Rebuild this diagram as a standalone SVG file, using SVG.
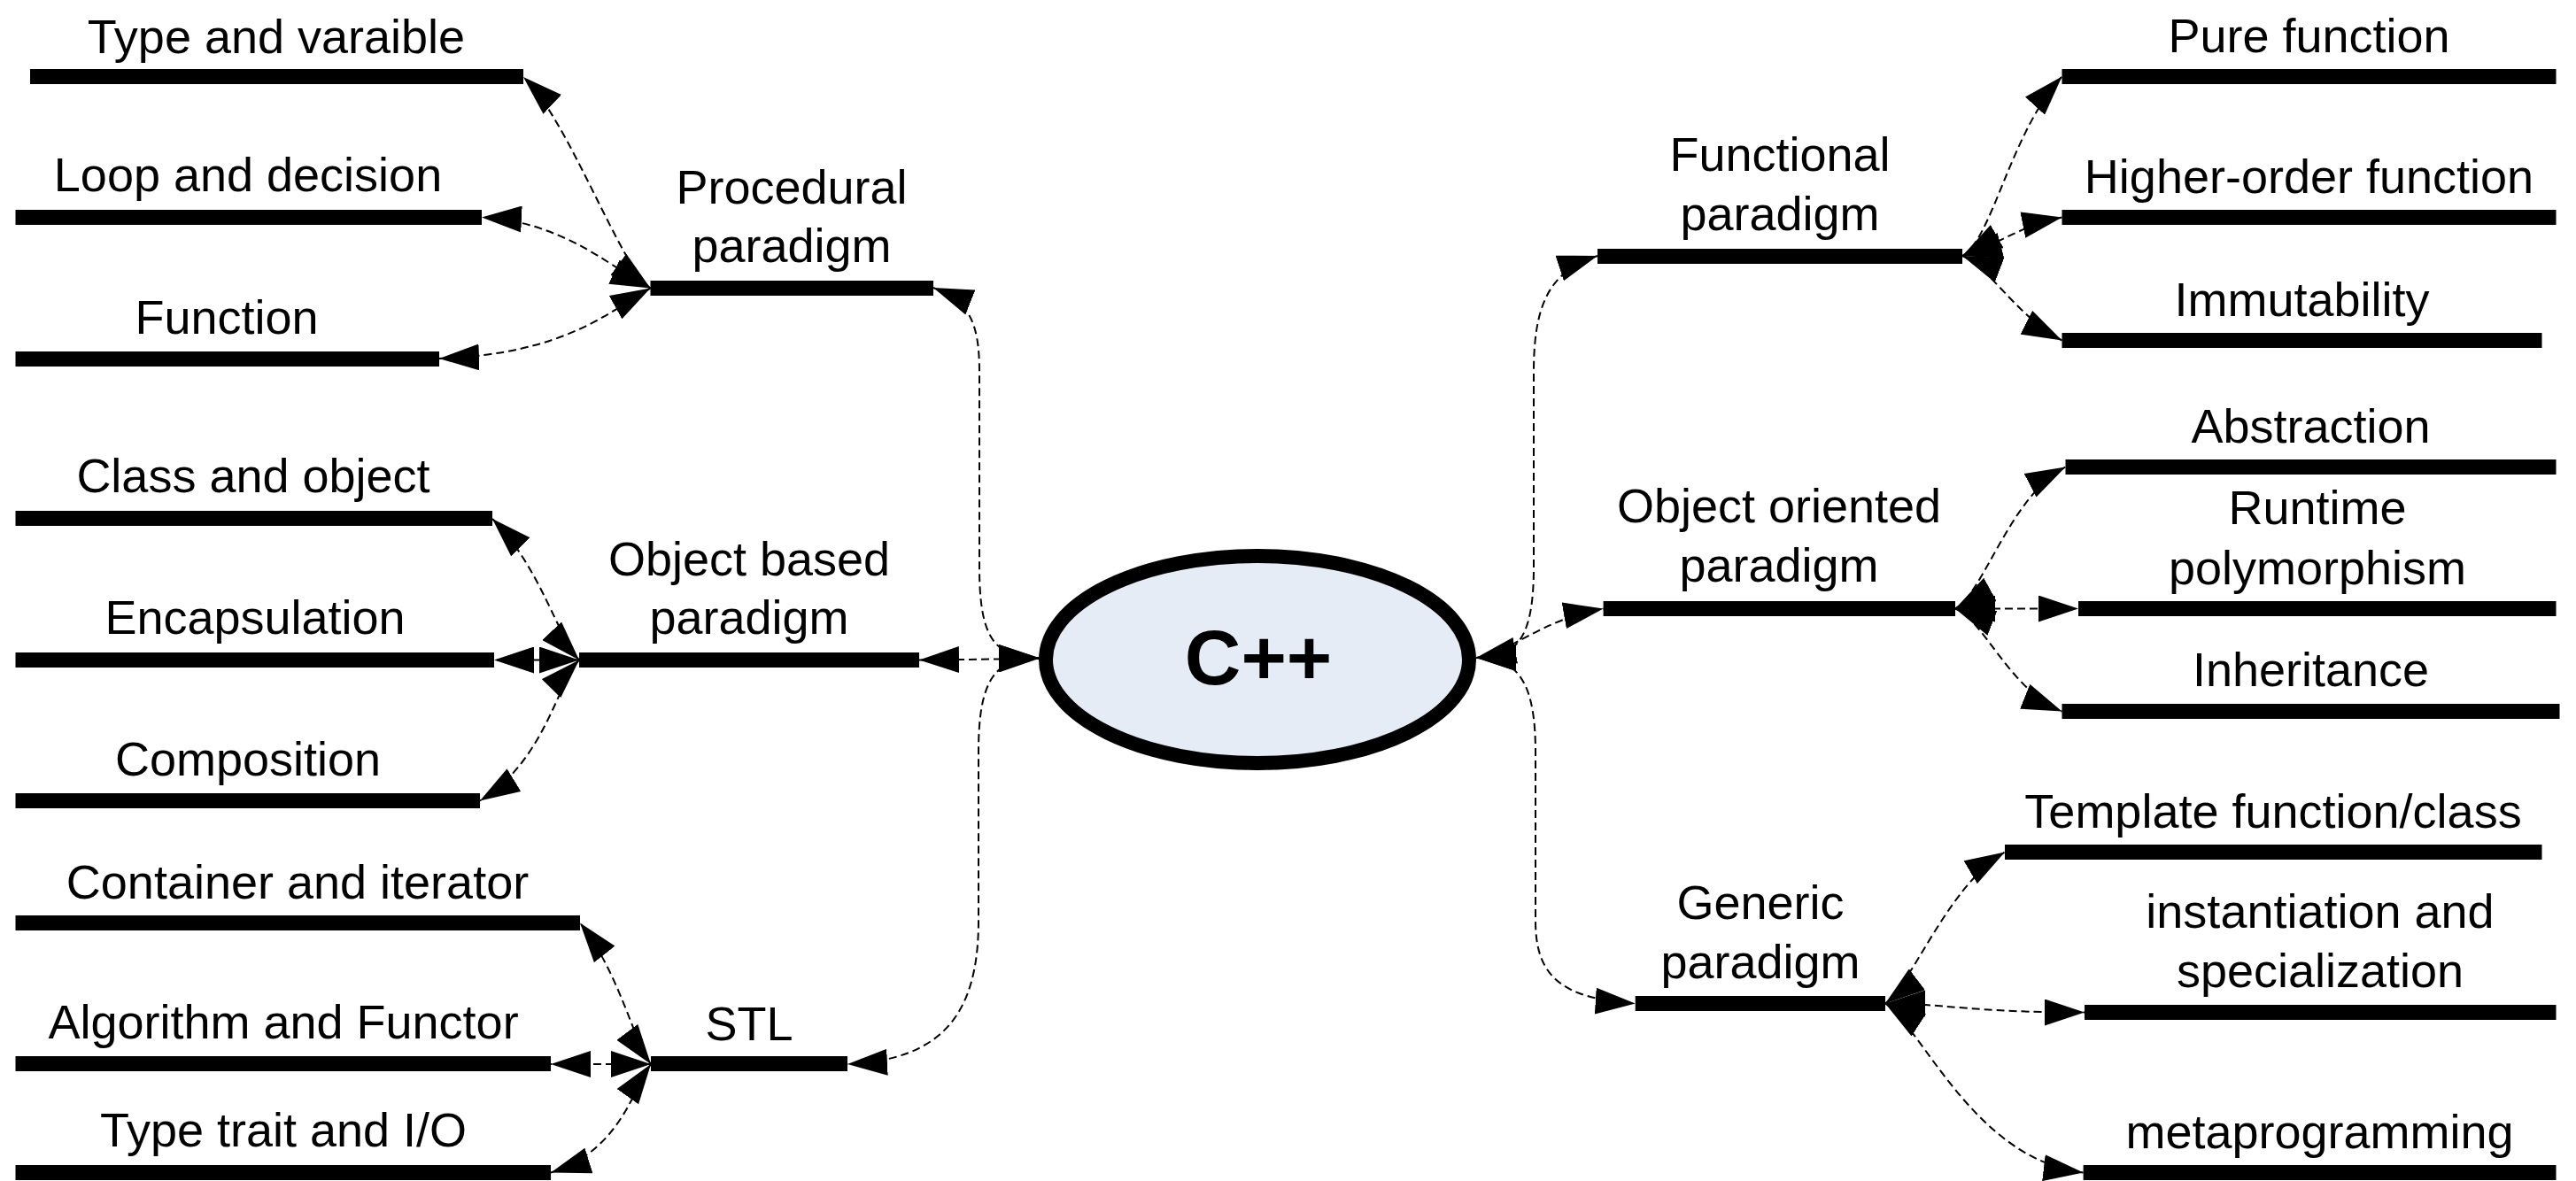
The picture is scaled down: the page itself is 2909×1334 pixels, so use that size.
<svg xmlns="http://www.w3.org/2000/svg" width="2909" height="1334" viewBox="0 0 2909 1334">
<defs>
<marker id="ah" markerUnits="userSpaceOnUse" markerWidth="46" markerHeight="30" refX="45" refY="15" orient="auto-start-reverse" viewBox="0 0 46 30">
<path d="M0,0 L45,15 L0,30 z" fill="#000"/>
</marker>
<style>
.bar{fill:#000}
.lbl{font-family:"Liberation Sans",Arial,sans-serif;font-size:54px;fill:#000;text-anchor:middle}
.cn{fill:none;stroke:#000;stroke-width:2;stroke-dasharray:9 5;marker-start:url(#ah);marker-end:url(#ah)}
</style>
</defs>
<rect width="2909" height="1334" fill="#fff"/>
<g id="connectors">
<path class="cn" d="M1173,743 C1122,743 1106,720 1106,640 L1106,420 C1106,360 1092,340 1054,325"/>
<path class="cn" d="M1173,744 L1038,745.5"/>
<path class="cn" d="M1173,743 C1122,743 1105,770 1105,850 L1105,1040 C1105,1150 1060,1197 957,1202"/>
<path class="cn" d="M1667,743 C1714,743 1732,720 1732,640 L1732,420 C1732,340 1752,306 1804,289"/>
<path class="cn" d="M1667,743 C1710,735 1740,700 1810.6,687.5"/>
<path class="cn" d="M1667,743 C1714,743 1734,770 1734,850 L1734,1040 C1734,1100 1760,1128 1846.7,1133.5"/>
<path class="cn" d="M734.5,325.5 C700,300 642,135 591,87"/>
<path class="cn" d="M734.5,325.5 C700,310 640,250 544,245.5"/>
<path class="cn" d="M734.5,325.5 C690,350 640,400 496,405"/>
<path class="cn" d="M654,745.5 C630,720 610,640 556,586"/>
<path class="cn" d="M654,745.5 L558,745.5"/>
<path class="cn" d="M654,745.5 C630,770 615,860 542,904.5"/>
<path class="cn" d="M735,1202 C715,1175 700,1100 655,1042.5"/>
<path class="cn" d="M735,1202 L622,1202"/>
<path class="cn" d="M735,1202 C715,1230 700,1300 622,1324.5"/>
<path class="cn" d="M2216,289 C2250,270 2270,150 2328.5,86.5"/>
<path class="cn" d="M2216,289 C2250,280 2280,255 2328.5,245.5"/>
<path class="cn" d="M2216,289 C2245,300 2280,360 2328.5,384.5"/>
<path class="cn" d="M2208,687.5 C2240,670 2270,560 2332.5,527.5"/>
<path class="cn" d="M2208,687.5 L2347,687.5"/>
<path class="cn" d="M2208,687.5 C2240,700 2270,780 2328.5,803.5"/>
<path class="cn" d="M2129,1133.5 C2160,1110 2200,1000 2264,962.5"/>
<path class="cn" d="M2129,1133.5 C2200,1133.5 2220,1143.5 2354,1143.5"/>
<path class="cn" d="M2129,1133.5 C2170,1160 2230,1310 2352.6,1324.5"/>
</g>
<g id="cpp">
<ellipse cx="1420" cy="745" rx="239" ry="117" fill="#e5ecf6" stroke="#000" stroke-width="16"/>
<text x="1421" y="773" font-family="Liberation Sans,Arial,sans-serif" font-size="88" font-weight="bold" text-anchor="middle">C++</text>
</g>
<g id="procedural"><rect class="bar" x="734.5" y="317" width="319.5" height="17"/><text class="lbl" x="894" y="230">Procedural</text><text class="lbl" x="894" y="296">paradigm</text></g>
<g id="type-var"><rect class="bar" x="34" y="78" width="557" height="17"/><text class="lbl" x="312" y="60">Type and varaible</text></g>
<g id="loop"><rect class="bar" x="17.5" y="237" width="526.5" height="17"/><text class="lbl" x="280" y="216">Loop and decision</text></g>
<g id="function"><rect class="bar" x="17.5" y="397" width="478.5" height="17"/><text class="lbl" x="256" y="377">Function</text></g>
<g id="object-based"><rect class="bar" x="654" y="737" width="384" height="17"/><text class="lbl" x="846" y="650">Object based</text><text class="lbl" x="846" y="716">paradigm</text></g>
<g id="class-object"><rect class="bar" x="17.5" y="577" width="538.5" height="17"/><text class="lbl" x="286" y="556">Class and object</text></g>
<g id="encapsulation"><rect class="bar" x="17.5" y="737" width="540.5" height="17"/><text class="lbl" x="288" y="716">Encapsulation</text></g>
<g id="composition"><rect class="bar" x="17.5" y="896" width="524.5" height="17"/><text class="lbl" x="280" y="876">Composition</text></g>
<g id="stl"><rect class="bar" x="735" y="1193" width="222" height="17"/><text class="lbl" x="846" y="1175">STL</text></g>
<g id="container"><rect class="bar" x="17.5" y="1034" width="637.5" height="17"/><text class="lbl" x="336" y="1015">Container and iterator</text></g>
<g id="algorithm"><rect class="bar" x="17.5" y="1193" width="604.5" height="17"/><text class="lbl" x="320" y="1173">Algorithm and Functor</text></g>
<g id="type-trait"><rect class="bar" x="17.5" y="1316" width="604.5" height="17"/><text class="lbl" x="320" y="1295">Type trait and I/O</text></g>
<g id="functional"><rect class="bar" x="1804" y="281" width="412" height="17"/><text class="lbl" x="2010" y="193">Functional</text><text class="lbl" x="2010" y="260">paradigm</text></g>
<g id="pure"><rect class="bar" x="2328.5" y="78" width="558" height="17"/><text class="lbl" x="2607.5" y="59">Pure function</text></g>
<g id="higher"><rect class="bar" x="2328.5" y="237" width="558" height="17"/><text class="lbl" x="2607.5" y="218">Higher-order function</text></g>
<g id="immutability"><rect class="bar" x="2328.5" y="376" width="542" height="17"/><text class="lbl" x="2599.5" y="357">Immutability</text></g>
<g id="object-oriented"><rect class="bar" x="1810.6" y="679" width="397.4" height="17"/><text class="lbl" x="2009" y="590">Object oriented</text><text class="lbl" x="2009" y="657">paradigm</text></g>
<g id="abstraction"><rect class="bar" x="2332.5" y="519" width="554" height="17"/><text class="lbl" x="2609.5" y="500">Abstraction</text></g>
<g id="runtime"><rect class="bar" x="2347" y="679" width="539.5" height="17"/><text class="lbl" x="2617" y="592">Runtime</text><text class="lbl" x="2617" y="660">polymorphism</text></g>
<g id="inheritance"><rect class="bar" x="2328.5" y="795" width="562" height="17"/><text class="lbl" x="2609.5" y="775">Inheritance</text></g>
<g id="generic"><rect class="bar" x="1846.7" y="1125" width="282.3" height="17"/><text class="lbl" x="1988" y="1038">Generic</text><text class="lbl" x="1988" y="1105">paradigm</text></g>
<g id="template"><rect class="bar" x="2264" y="954" width="606.5" height="17"/><text class="lbl" x="2567" y="935">Template function/class</text></g>
<g id="instantiation"><rect class="bar" x="2354" y="1135" width="532.5" height="17"/><text class="lbl" x="2620" y="1048">instantiation and</text><text class="lbl" x="2620" y="1115">specialization</text></g>
<g id="metaprogramming"><rect class="bar" x="2352.6" y="1316" width="533.9" height="17"/><text class="lbl" x="2619.5" y="1297">metaprogramming</text></g>
</svg>
